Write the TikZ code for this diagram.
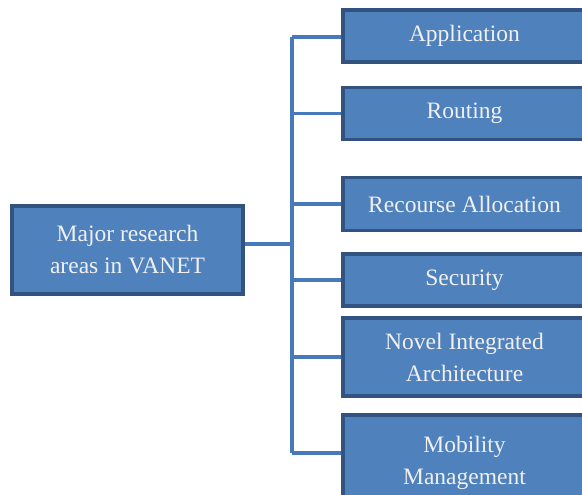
\documentclass[tikz,border=0pt]{standalone}
\usepackage{fontspec}
\setmainfont{Liberation Serif}
\definecolor{boxfill}{RGB}{79,129,189}
\definecolor{boxedge}{RGB}{50,82,128}
\definecolor{linkblue}{RGB}{72,121,186}
\begin{document}
\begin{tikzpicture}[x=1pt,y=-1pt,
  area/.style={draw=boxedge, line width=3.2pt, fill=boxfill, text=white!94!black,
    align=center, inner sep=0pt, font=\fontsize{23.5}{32}\selectfont},
  topic/.style={area, minimum width=243pt},
  link/.style={draw=linkblue, line width=3.5pt, line join=miter}]
  \useasboundingbox (0,0) rectangle (582,495);
  \clip (0,0) rectangle (582,495);

  % root of the tree
  \node[area, minimum width=231pt, minimum height=88pt] (root) at (127.5,250)
    {Major research\\areas in VANET};

  % research areas
  \node[topic, minimum height=52pt] (app) at (464.5,36) {Application};
  \node[topic, minimum height=52pt] (rout) at (464.5,113.5) {Routing};
  \node[topic, minimum height=53pt] (res) at (464.5,204) {Recourse Allocation};
  \node[topic, minimum height=52pt] (sec) at (464.5,280) {Security};
  \node[topic, minimum height=78pt] (nov) at (464.5,357) {Novel Integrated\\Architecture};
  \node[topic, minimum height=94pt] (mob) at (464.5,462) {\raisebox{5pt}{\begin{tabular}{@{}c@{}}Mobility\\Management\end{tabular}}};

  % trunk and branches
  \coordinate (top) at (292,37);
  \coordinate (hub) at (292,244);
  \coordinate (bot) at (292,453);
  \draw[link] (top) -- (bot);
  \draw[link] (root.east |- hub) -- (hub);
  \draw[link] (top) -- (top -| app.west);
  \draw[link] (hub |- rout.west) -- (rout.west);
  \draw[link] (hub |- res.west) -- (res.west);
  \draw[link] (hub |- sec.west) -- (sec.west);
  \draw[link] (hub |- nov.west) -- (nov.west);
  \draw[link] (bot) -- (bot -| mob.west);
\end{tikzpicture}
\end{document}
